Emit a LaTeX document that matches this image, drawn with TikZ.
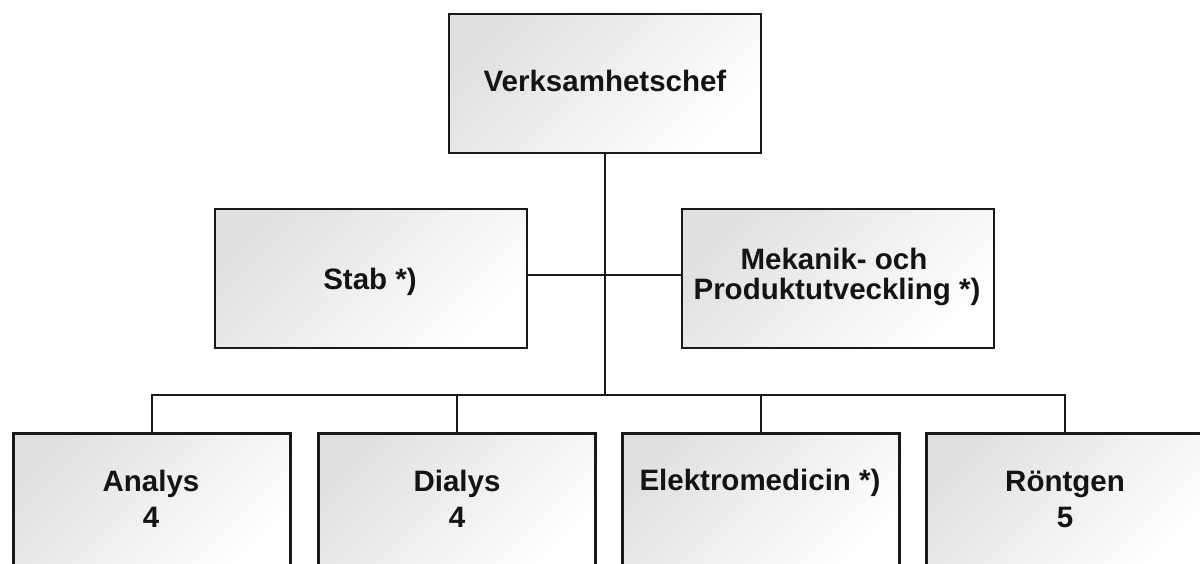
\documentclass[tikz,border=0pt]{standalone}
\usepackage{fontspec}
\setmainfont{Liberation Sans}
\begin{document}
\begin{tikzpicture}[x=1pt,y=-1pt,
  ink/.style={draw=black!90},
  orgbox/.style={ink, line width=2.8pt, rectangle, inner sep=0pt,
    minimum width=312pt, minimum height=139pt,
    top color=black!12, bottom color=white, shading angle=45},
  unitbox/.style={orgbox, minimum width=277pt, minimum height=139pt, anchor=north},
  caption/.style={anchor=base, inner sep=0pt, text=black!92,
    font=\fontsize{29.5}{36}\selectfont\bfseries},
  link/.style={ink, line width=2.3pt}]
  \useasboundingbox (0,0) rectangle (1200,564);
  \clip (0,0) rectangle (1200,564);

  % management level
  \node[orgbox] (chef) at (605,83.5) {};
  \node[orgbox] (stab) at (371,278.5) {};
  \node[orgbox] (mek) at (838,278.5) {};

  % units
  \node[unitbox] (analys) at (152,432) {};
  \node[unitbox] (dialys) at (457,432) {};
  \node[unitbox] (elektro) at (761,432) {};
  \node[unitbox] (rontgen) at (1065,432) {};

  % texts, placed on their baselines
  \node[caption] (chef-t) at (605,92) {Verksamhetschef};
  \node[caption] (stab-t) at (370,290) {Stab *)};
  \node[caption] (mek-t1) at (834,270) {Mekanik- och};
  \node[caption] (mek-t2) at (837,299.5) {Produktutveckling *)};
  \node[caption] (analys-t1) at (151,491) {Analys};
  \node[caption] (analys-t2) at (151,527) {4};
  \node[caption] (dialys-t1) at (457,491) {Dialys};
  \node[caption] (dialys-t2) at (457,527) {4};
  \node[caption] (elektro-t) at (760,490) {Elektromedicin *)};
  \node[caption] (rontgen-t1) at (1065,491) {Röntgen};
  \node[caption] (rontgen-t2) at (1065,527) {5};

  % connectors
  \coordinate (bus) at (605,395);
  \draw[link] (chef.south) -- (bus);
  \draw[link] ([yshift=3.5pt]stab.east) -- ([yshift=3.5pt]mek.west);
  \draw[link] (bus) -| (analys.north);
  \draw[link] (bus) -| (dialys.north);
  \draw[link] (bus) -| (elektro.north);
  \draw[link] (bus) -| (rontgen.north);
\end{tikzpicture}
\end{document}
